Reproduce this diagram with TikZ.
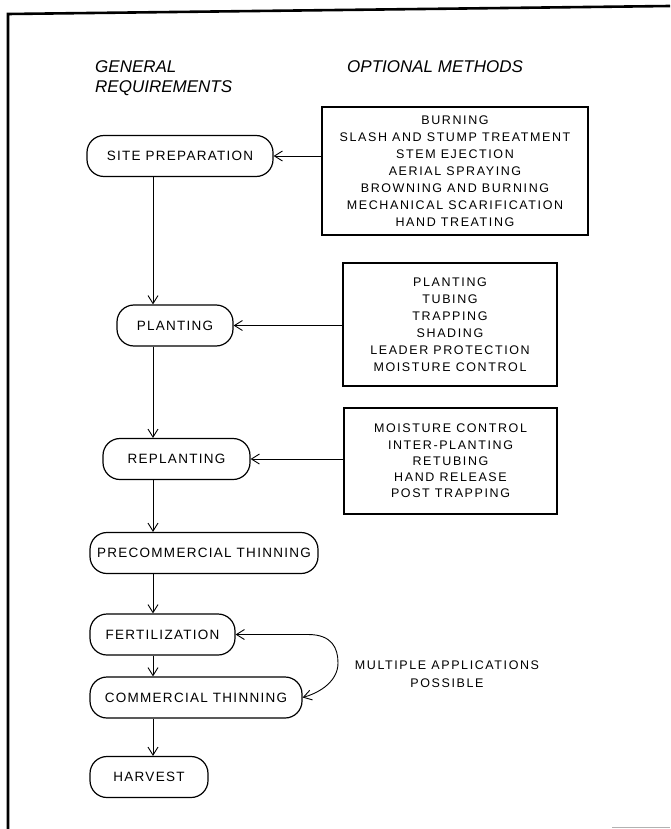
\documentclass[tikz,border=0pt]{standalone}
\usepackage{fontspec}
\setmainfont{Liberation Sans}
\newfontfamily\lettering[LetterSpace=12.8]{Liberation Sans}
\newfontfamily\stagefont[LetterSpace=9.5]{Liberation Sans}
\usetikzlibrary{arrows.meta}
\begin{document}
\begin{tikzpicture}[x=1pt,y=-1pt,
  stage/.style={draw, line width=1.2pt, rounded corners=17pt, minimum height=41pt, inner sep=0pt,
    font=\stagefont\fontsize{13.5}{16}\selectfont},
  optbox/.style={draw, line width=1.4pt, inner sep=0pt, align=center,
    font=\lettering\fontsize{12.5}{17}\selectfont},
  header/.style={anchor=west, inner sep=0pt, font=\fontsize{17}{20}\selectfont\itshape},
  note/.style={inner sep=0pt, align=center, font=\lettering\fontsize{12.5}{18}\selectfont},
  arr/.style={line width=0.9pt, -{Straight Barb[length=8pt,width=10pt]}},
  dblarr/.style={line width=0.9pt, {Straight Barb[length=8pt,width=10pt]}-{Straight Barb[length=8pt,width=10pt]}},
  frame/.style={line width=2.6pt}
]
\useasboundingbox (0,0) rectangle (670,829);

% frame
\draw[frame] (670,6) -- (8,14) -- (8,829);
\draw[gray!60, line width=0.8pt] (612,827.5) -- (670,827.5);

% headers
\node[header] (h1) at (95,67) {GENERAL};
\node[header] (h2) at (95,88) {REQUIREMENTS};
\node[header] (h3) at (347,67) {OPTIONAL METHODS};

% stages
\coordinate (spine) at (153,0);
\node[stage, minimum width=186pt] (site) at (180,156) {SITE PREPARATION};
\node[stage, minimum width=116pt] (plant) at (175,325.5) {PLANTING};
\node[stage, minimum width=147pt] (replant) at (176.5,459) {REPLANTING};
\node[stage, minimum width=228pt] (precomm) at (204,553) {PRECOMMERCIAL THINNING};
\node[stage, minimum width=145pt] (fert) at (162.5,634.5) {FERTILIZATION};
\node[stage, minimum width=212pt] (comm) at (196,697.5) {COMMERCIAL THINNING};
\node[stage, minimum width=118pt] (harvest) at (149,777) {HARVEST};

% optional method boxes
\node[optbox, minimum width=266pt, minimum height=128pt] (box1) at (455,171)
  {BURNING\\SLASH AND STUMP TREATMENT\\STEM EJECTION\\AERIAL SPRAYING\\BROWNING AND BURNING\\MECHANICAL SCARIFICATION\\HAND TREATING};
\node[optbox, minimum width=214pt, minimum height=123pt] (box2) at (450,324.5)
  {PLANTING\\TUBING\\TRAPPING\\SHADING\\LEADER PROTECTION\\MOISTURE CONTROL};
\node[optbox, minimum width=213pt, minimum height=106pt, font=\lettering\fontsize{12.5}{16.3}\selectfont] (box3) at (450.5,461)
  {MOISTURE CONTROL\\INTER-PLANTING\\RETUBING\\HAND RELEASE\\POST TRAPPING};

% main flow
\draw[arr] (site.south -| spine) -- (plant.north -| spine);
\draw[arr] (plant.south -| spine) -- (replant.north -| spine);
\draw[arr] (replant.south -| spine) -- (precomm.north -| spine);
\draw[arr] (precomm.south -| spine) -- (fert.north -| spine);
\draw[arr] (fert.south -| spine) -- (comm.north -| spine);
\draw[arr] (comm.south -| spine) -- (harvest.north -| spine);

% options into stages
\draw[arr] (box1.west |- site.east) -- (site.east);
\draw[arr] (box2.west |- plant.east) -- (plant.east);
\draw[arr] (box3.west |- replant.east) -- (replant.east);

% repeat loop
\coordinate (loopa) at (308,634.5);
\coordinate (loopb) at (338,663);
\draw[dblarr] (fert.east) -- (loopa) .. controls (332,634.5) and (338,648) .. (loopb)
  .. controls (338,680) and (322,692) .. (comm.east);
\node[note] (multi) at (447,674) {MULTIPLE APPLICATIONS\\POSSIBLE};
\end{tikzpicture}
\end{document}
